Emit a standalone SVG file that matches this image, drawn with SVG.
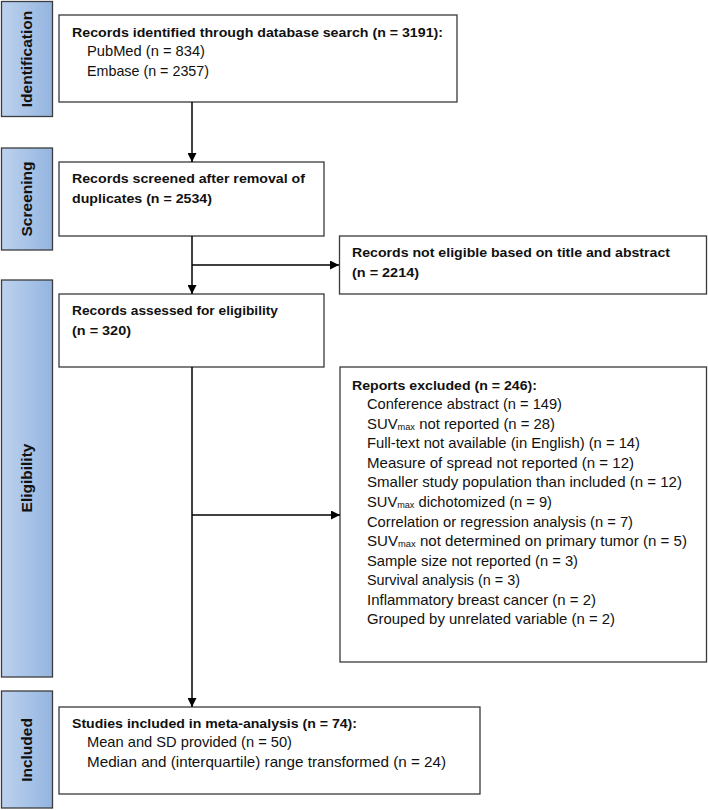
<svg xmlns="http://www.w3.org/2000/svg" width="708" height="810" viewBox="0 0 708 810">
<defs>
<linearGradient id="bar" x1="0" y1="0" x2="1" y2="0">
<stop offset="0" stop-color="#bdd2ee"/>
<stop offset="1" stop-color="#94b5e0"/>
</linearGradient>
<marker id="arr" viewBox="0 0 10 10" refX="10" refY="5" markerWidth="9" markerHeight="9" markerUnits="userSpaceOnUse" orient="auto">
<path d="M0,0 L10,5 L0,10 z" fill="#000"/>
</marker>
</defs>
<style>
.bar{fill:url(#bar);stroke:#3c3c3c;stroke-width:1.3}
.box{fill:#fff;stroke:#3a3a3a;stroke-width:1.3}
.lab{font-family:"Liberation Sans",Arial,sans-serif;font-weight:bold;font-size:15.5px;fill:#111;text-anchor:middle}
.b{font-family:"Liberation Sans",Arial,sans-serif;font-weight:bold;font-size:13.7px;fill:#111}
.t{font-family:"Liberation Sans",Arial,sans-serif;font-size:14.5px;fill:#111}
.sub{font-size:9px}
.con{fill:none;stroke:#000;stroke-width:1.5}
</style>
<rect width="708" height="810" fill="#fff"/>

<g id="phase-identification">
<rect class="bar" x="1.5" y="1.5" width="51" height="115"/>
<text class="lab" transform="translate(32,59) rotate(-90)">Identification</text>
</g>
<g id="phase-screening">
<rect class="bar" x="1.5" y="148" width="51" height="102"/>
<text class="lab" transform="translate(32,199) rotate(-90)">Screening</text>
</g>
<g id="phase-eligibility">
<rect class="bar" x="1.5" y="280" width="51" height="397"/>
<text class="lab" transform="translate(32,478) rotate(-90)">Eligibility</text>
</g>
<g id="phase-included">
<rect class="bar" x="1.5" y="691" width="51" height="117"/>
<text class="lab" transform="translate(32,750) rotate(-90)">Included</text>
</g>

<g id="node-identified">
<rect class="box" x="59" y="15" width="398" height="87"/>
<text class="b" x="72" y="37" textLength="371" lengthAdjust="spacingAndGlyphs">Records identified through database search (n = 3191):</text>
<text class="t" x="87" y="56" textLength="118" lengthAdjust="spacingAndGlyphs">PubMed (n = 834)</text>
<text class="t" x="87" y="76" textLength="122" lengthAdjust="spacingAndGlyphs">Embase (n = 2357)</text>
</g>

<g id="node-screened">
<rect class="box" x="59" y="162" width="265" height="74"/>
<text class="b" x="72" y="183" textLength="233" lengthAdjust="spacingAndGlyphs">Records screened after removal of</text>
<text class="b" x="72" y="203" textLength="140" lengthAdjust="spacingAndGlyphs">duplicates (n = 2534)</text>
</g>

<g id="node-not-eligible">
<rect class="box" x="339.5" y="236" width="367" height="58"/>
<text class="b" x="352" y="257" textLength="318" lengthAdjust="spacingAndGlyphs">Records not eligible based on title and abstract</text>
<text class="b" x="352" y="277" textLength="67" lengthAdjust="spacingAndGlyphs">(n = 2214)</text>
</g>

<g id="node-assessed">
<rect class="box" x="59" y="294" width="265" height="73"/>
<text class="b" x="72" y="315" textLength="206" lengthAdjust="spacingAndGlyphs">Records assessed for eligibility</text>
<text class="b" x="72" y="335" textLength="59" lengthAdjust="spacingAndGlyphs">(n = 320)</text>
</g>

<g id="node-excluded">
<rect class="box" x="340" y="367" width="366.5" height="295"/>
<text class="b" x="352" y="390" textLength="185" lengthAdjust="spacingAndGlyphs">Reports excluded (n = 246):</text>
<text class="t" x="367" y="409" textLength="195" lengthAdjust="spacingAndGlyphs">Conference abstract (n = 149)</text>
<text class="t" x="367" y="429" textLength="188" lengthAdjust="spacingAndGlyphs">SUV<tspan class="sub" dy="1">max</tspan><tspan dy="-1"> not reported (n = 28)</tspan></text>
<text class="t" x="367" y="448" textLength="273" lengthAdjust="spacingAndGlyphs">Full-text not available (in English) (n = 14)</text>
<text class="t" x="367" y="468" textLength="267" lengthAdjust="spacingAndGlyphs">Measure of spread not reported (n = 12)</text>
<text class="t" x="367" y="487" textLength="315" lengthAdjust="spacingAndGlyphs">Smaller study population than included (n = 12)</text>
<text class="t" x="367" y="507" textLength="185" lengthAdjust="spacingAndGlyphs">SUV<tspan class="sub" dy="1">max</tspan><tspan dy="-1"> dichotomized (n = 9)</tspan></text>
<text class="t" x="367" y="527" textLength="266" lengthAdjust="spacingAndGlyphs">Correlation or regression analysis (n = 7)</text>
<text class="t" x="367" y="546" textLength="320" lengthAdjust="spacingAndGlyphs">SUV<tspan class="sub" dy="1">max</tspan><tspan dy="-1"> not determined on primary tumor (n = 5)</tspan></text>
<text class="t" x="367" y="566" textLength="211" lengthAdjust="spacingAndGlyphs">Sample size not reported (n = 3)</text>
<text class="t" x="367" y="585" textLength="153" lengthAdjust="spacingAndGlyphs">Survival analysis (n = 3)</text>
<text class="t" x="367" y="605" textLength="229" lengthAdjust="spacingAndGlyphs">Inflammatory breast cancer (n = 2)</text>
<text class="t" x="367" y="624" textLength="248" lengthAdjust="spacingAndGlyphs">Grouped by unrelated variable (n = 2)</text>
</g>

<g id="node-included">
<rect class="box" x="59" y="707" width="421" height="87"/>
<text class="b" x="72" y="728" textLength="285" lengthAdjust="spacingAndGlyphs">Studies included in meta-analysis (n = 74):</text>
<text class="t" x="87" y="747" textLength="205" lengthAdjust="spacingAndGlyphs">Mean and SD provided (n = 50)</text>
<text class="t" x="87" y="767" textLength="359" lengthAdjust="spacingAndGlyphs">Median and (interquartile) range transformed (n = 24)</text>
</g>

<g id="connectors">
<line class="con" x1="192" y1="102" x2="192" y2="162" marker-end="url(#arr)"/>
<line class="con" x1="192" y1="236" x2="192" y2="294" marker-end="url(#arr)"/>
<line class="con" x1="192" y1="265" x2="339" y2="265" marker-end="url(#arr)"/>
<line class="con" x1="192" y1="367" x2="192" y2="707" marker-end="url(#arr)"/>
<line class="con" x1="192" y1="515" x2="340" y2="515" marker-end="url(#arr)"/>
</g>
</svg>
